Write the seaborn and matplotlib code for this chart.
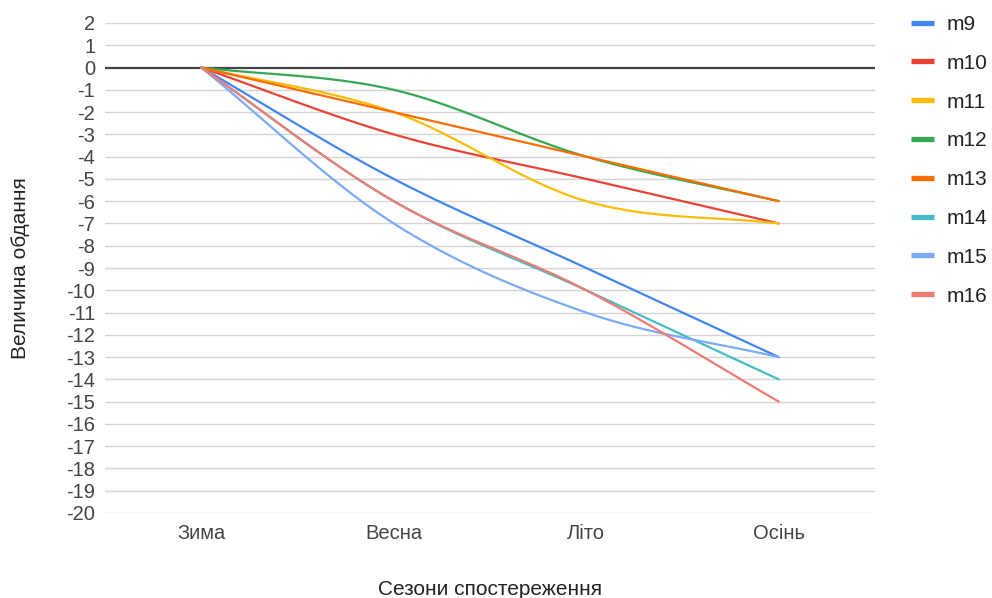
import numpy as np
import pandas as pd
import matplotlib
matplotlib.use("Agg")
import matplotlib.pyplot as plt
import seaborn as sns
from matplotlib.lines import Line2D

# Seasons along the x axis
seasons = ["Зима", "Весна", "Літо", "Осінь"]

# Values per series
m9 = [0, -5, -9, -13]
m10 = [0, -3, -5, -7]
m11 = [0, -2, -6, -7]
m12 = [0, -1, -4, -6]
m13 = [0, -2, -4, -6]
m14 = [0, -6, -10, -14]
m15 = [0, -7, -11, -13]
m16 = [0, -6, -10, -15]

series_names = ["m9", "m10", "m11", "m12", "m13", "m14", "m15", "m16"]
series_values = [m9, m10, m11, m12, m13, m14, m15, m16]
colors = ["#4285F4", "#EA4335", "#FBBC04", "#34A853",
          "#FF6D01", "#46BDC6", "#7BAAF7", "#F07B72"]

y_ticks = list(range(2, -21, -1))
y_tick_labels = [str(v) for v in y_ticks]


def smooth(xs, ys, n=40):
    """Catmull-Rom spline through the given points."""
    xs = np.asarray(xs, float)
    ys = np.asarray(ys, float)
    px = np.concatenate([[2 * xs[0] - xs[1]], xs, [2 * xs[-1] - xs[-2]]])
    py = np.concatenate([[2 * ys[0] - ys[1]], ys, [2 * ys[-1] - ys[-2]]])
    out_x, out_y = [], []
    t = np.linspace(0, 1, n, endpoint=False)
    for i in range(1, len(px) - 2):
        for P, out in ((px, out_x), (py, out_y)):
            p0, p1, p2, p3 = P[i - 1], P[i], P[i + 1], P[i + 2]
            seg = 0.5 * ((2 * p1) + (-p0 + p2) * t
                         + (2 * p0 - 5 * p1 + 4 * p2 - p3) * t ** 2
                         + (-p0 + 3 * p1 - 3 * p2 + p3) * t ** 3)
            out.extend(seg)
    out_x.append(xs[-1])
    out_y.append(ys[-1])
    return np.array(out_x), np.array(out_y)


rows = []
x_idx = np.arange(len(seasons))
for name, vals in zip(series_names, series_values):
    sx, sy = smooth(x_idx, vals)
    for k, (a, b) in enumerate(zip(sx, sy)):
        rows.append({"series": name, "x": a, "y": b, "order": k})
df = pd.DataFrame(rows)

sns.set_theme(style="white")
plt.rcParams["font.family"] = ["Liberation Sans", "DejaVu Sans"]
plt.rcParams["axes.unicode_minus"] = False

W, H = 992, 598
fig = plt.figure(figsize=(W / 100, H / 100), dpi=100)
ax = fig.add_axes([105 / W, 1 - 513 / H, (875 - 105) / W, (513 - 23) / H])

# Horizontal gridlines and baseline
for v in y_ticks:
    if v == 0:
        continue
    ax.axhline(v, color="#d4d4d4", lw=1.0, zorder=0)
ax.axhline(0, color="#444444", lw=1.6, zorder=1)

sns.lineplot(data=df, x="x", y="y", hue="series", hue_order=series_names,
             palette=colors, sort=False, estimator=None, units="series",
             lw=1.6, ax=ax, legend=False, zorder=2)

ax.set_xlim(-0.5, len(seasons) - 0.5)
ax.set_ylim(-20, 2)
ax.set_xticks(x_idx)
ax.set_xticklabels(seasons, fontsize=14.5, color="#444444")
ax.set_yticks(y_ticks)
ax.set_yticklabels(y_tick_labels, fontsize=14.5, color="#444444")
ax.tick_params(axis="x", length=0, pad=8)
ax.tick_params(axis="y", length=0, pad=7)
for s in ax.spines.values():
    s.set_visible(False)
ax.grid(False)

ax.set_xlabel("Сезони спостереження", fontsize=15, color="#222222")
ax.xaxis.set_label_coords(0.5, -(580 - 513) / 490)
ax.set_ylabel("Величина обдання", fontsize=15, color="#222222")
ax.yaxis.set_label_coords(-(105 - 30) / 770, 0.5)

handles = [Line2D([0], [0], color=c, lw=3.8, solid_capstyle="butt") for c in colors]
fig.legend(handles, series_names, loc="upper left",
           bbox_to_anchor=(911 / W, 1 - 15 / H), frameon=False,
           fontsize=15, labelcolor="#222222", handlelength=1.1,
           handletextpad=0.62, labelspacing=0.95, borderpad=0,
           borderaxespad=0)

fig.savefig("out.png", dpi=100)
